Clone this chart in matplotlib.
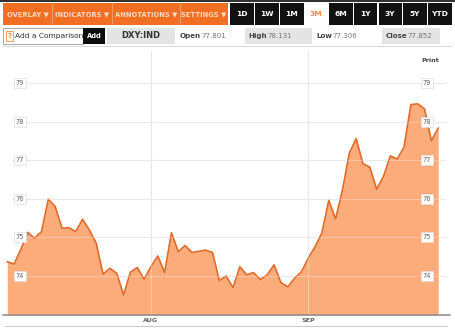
import numpy as np
import pandas as pd
import matplotlib
matplotlib.use('Agg')
import matplotlib.pyplot as plt
import matplotlib.transforms as mtransforms
from matplotlib.patches import Rectangle

W, H = 455, 329

# DXY daily closes, Jul-Sep 2011
dates = pd.bdate_range('2011-07-01', '2011-09-28')
close = [74.37, 74.31, 74.70, 75.13, 74.98, 75.15, 75.99, 75.80, 75.24, 75.25,
         75.15, 75.47, 75.19, 74.85, 74.05, 74.20, 74.07, 73.51, 74.10, 74.22,
         73.92, 74.24, 74.52, 74.09, 75.12, 74.63, 74.79, 74.61, 74.64, 74.67,
         74.61, 73.88, 74.00, 73.70, 74.24, 74.03, 74.09, 73.91, 74.03, 74.29,
         73.83, 73.72, 73.94, 74.11, 74.46, 74.76, 75.12, 75.96, 75.48, 76.23,
         77.18, 77.56, 76.91, 76.82, 76.25, 76.58, 77.11, 77.03, 77.34, 78.44,
         78.46, 78.33, 77.50, 77.83]
y_ticks = [74, 75, 76, 77, 78, 79]
menu_labels = ['OVERLAY', 'INDICATORS', 'ANNOTATIONS', 'SETTINGS']
ranges = ['1D', '1W', '1M', '3M', '6M', '1Y', '3Y', '5Y', 'YTD']
symbol = 'DXY:IND'
quote_fields = ['Open', 'High', 'Low', 'Close']
quote_values = ['77.801', '78.131', '77.306', '77.852']

ORANGE = '#f26e22'
FILL = '#fcab7b'
LINE = '#e06a28'

fig = plt.figure(figsize=(W / 100, H / 100), dpi=100)
fig.patch.set_facecolor('white')


def box(x0, y0, x1, y1, color, z=1, ec='none', lw=0):
    # pixel coords measured from the top-left corner
    fig.patches.append(Rectangle((x0 / W, 1 - y1 / H), (x1 - x0) / W, (y1 - y0) / H,
                                 transform=fig.transFigure, facecolor=color,
                                 edgecolor=ec, linewidth=lw, zorder=z))


def label(x, y, s, z=3, **kw):
    fig.text(x / W, 1 - y / H, s, zorder=z, **kw)


# top toolbar
box(0, 0, W, 1.5, '#333333')
box(3, 3.5, 228, 25, ORANGE)
menu_x = [(3, 52), (52, 112), (112, 180), (180, 228)]
for (x0, x1), name in zip(menu_x, menu_labels):
    if x0 > 3:
        box(x0, 3.5, x0 + 0.8, 25, '#f79a62', z=2)
    label((x0 + x1) / 2, 14.5, name + ' \u25BC', ha='center', va='center',
          fontsize=4.9, weight='bold', color='#ffd9c2')

range_x = [230, 255, 280, 304.5, 329, 353.5, 378.5, 403, 428]
for x0, name in zip(range_x, ranges):
    active = name == '3M'
    box(x0, 3.5, x0 + 23.5, 25, 'white' if active else '#111111')
    label(x0 + 11.75, 14.5, name, ha='center', va='center', fontsize=5.4,
          weight='bold', color='#f58a4b' if active else 'white')

# second row: comparison box + quote strip
box(3, 28, 83, 43.5, 'white', z=1, ec='#9a9a9a', lw=0.6)
box(6, 30.5, 13, 41, 'white', z=2, ec='#f28a3c', lw=0.6)
label(9.5, 35.8, '?', ha='center', va='center', fontsize=5, color='#f28a3c', weight='bold')
label(15, 35.8, 'Add a Comparison', ha='left', va='center', fontsize=5.4, color='#333333', z=2)
box(83, 28, 105, 43.5, '#0d0d0d', z=4)
label(94, 35.8, 'Add', ha='center', va='center', fontsize=4.9, color='white', weight='bold', z=5)
box(107, 28, 175, 43.5, '#e4e4e4')
label(141, 35.8, symbol, ha='center', va='center', fontsize=6, weight='bold', color='#333333')

quote_boxes = [(175, 245, 'white'), (245, 312, '#e4e4e4'), (312, 382, 'white'), (382, 440, '#e4e4e4')]
field_x = [180, 248, 316, 386]
value_x = [201, 267, 332, 407]
for (x0, x1, c), fx, vx, f, v in zip(quote_boxes, field_x, value_x, quote_fields, quote_values):
    box(x0, 28, x1, 43.5, c)
    label(fx, 35.8, f, ha='left', va='center', fontsize=5.1, weight='bold', color='#444444')
    label(vx, 35.8, v, ha='left', va='center', fontsize=5.1, color='#777777')

box(3, 46, 452, 46.8, '#d8d8d8')
label(430, 60, 'Print', ha='center', va='center', fontsize=4.6, weight='bold', color='#444444')

# chart area
x = np.arange(len(close))
step = 6.84
x_first = 7.3
px_per_unit = 38.6


def val(ypx):
    return 74 + (276 - ypx) / px_per_unit


ax = fig.add_axes([0, (H - 315) / H, 1, (315 - 48) / H])
ax.set_xlim(-x_first / step, (W - x_first) / step)
ybot, ytop = val(315), val(48)
ax.set_ylim(ybot, ytop)
ax.axis('off')

for t in y_ticks:
    ax.axhline(t, xmin=12 / W, xmax=445 / W, color='#e2e2e2', lw=0.8, zorder=0)
    ax.axhline(t, xmin=12 / W, xmax=445 / W, color='white', lw=0.8, alpha=0.3, zorder=3)

month_idx = []
for m in (8, 9):
    month_idx.append(int(np.argmax(dates.month == m)))
for i in month_idx:
    ax.axvline(i, ymax=0.99, color='#dedede', lw=0.8, zorder=0)
    ax.axvline(i, ymax=0.99, color='white', lw=0.8, alpha=0.3, zorder=3)

ax.fill_between(x, close, ybot, color=FILL, lw=0, zorder=1)
ax.plot(x, close, color=LINE, lw=1.2, zorder=2)

ytrans = mtransforms.blended_transform_factory(ax.transAxes, ax.transData)
for t in y_ticks:
    for xf in (20 / W, 427 / W):
        ax.text(xf, t, str(t), transform=ytrans, ha='center', va='center',
                fontsize=4.8, color='#666666', zorder=5,
                bbox=dict(boxstyle='square,pad=0.3', fc='white', ec='#dddddd', lw=0.5))

ax.axhline(ybot, xmin=3 / W, xmax=450 / W, color='#8c8c8c', lw=1.1, zorder=4, clip_on=False)
xtrans = mtransforms.blended_transform_factory(ax.transData, ax.transAxes)
for i in month_idx:
    ax.text(i, -0.022, dates[i].strftime('%b').upper(), transform=xtrans, ha='center',
            va='center', fontsize=4.6, weight='bold', color='#666666', clip_on=False)
box(5, 326, 448, 326.8, '#c8c8c8')

fig.savefig('out.png', dpi=100)
